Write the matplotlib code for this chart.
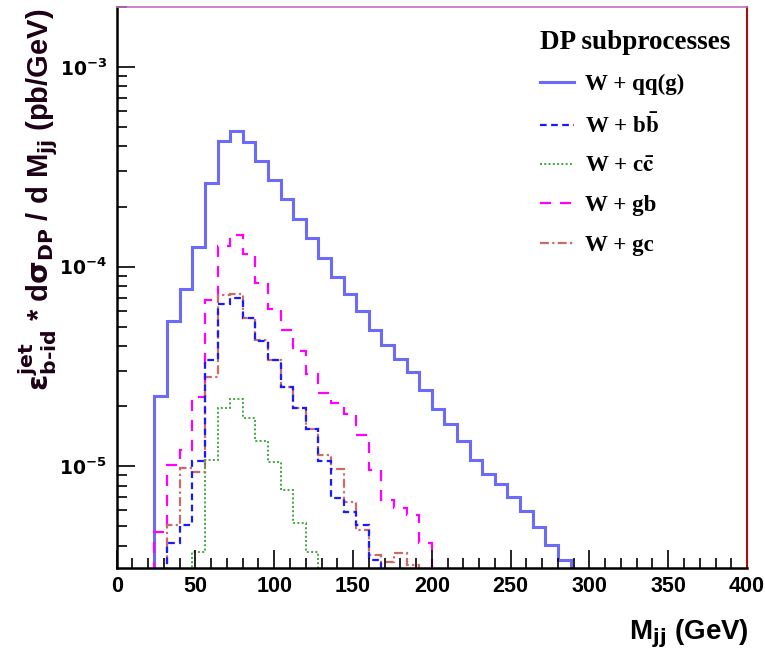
import numpy as np
import matplotlib
matplotlib.use("Agg")
import matplotlib.pyplot as plt
from matplotlib.lines import Line2D
from matplotlib.font_manager import FontProperties
from matplotlib.ticker import FixedLocator, MultipleLocator, NullFormatter, FixedFormatter

# 50 bins of 8 GeV from 0 to 400; each series lists its non-empty bins
bin_width = 8.0

# W + qq(g)
qqg_start = 24
qqg = [2.26e-5, 5.35e-5, 7.76e-5, 1.26e-4, 2.61e-4, 4.27e-4, 4.79e-4, 4.2e-4,
       3.39e-4, 2.71e-4, 2.17e-4, 1.73e-4, 1.39e-4, 1.10e-4, 8.85e-5, 7.3e-5,
       6.0e-5, 4.83e-5, 4.06e-5, 3.44e-5, 2.95e-5, 2.4e-5, 1.94e-5, 1.62e-5,
       1.34e-5, 1.08e-5, 9.1e-6, 8.1e-6, 7.0e-6, 5.96e-6, 4.96e-6, 4.01e-6,
       3.38e-6]

# W + b bbar
bb_start = 32
bb = [4.1e-6, 5.1e-6, 1.06e-5, 3.4e-5, 6.5e-5, 7.0e-5, 5.5e-5, 4.26e-5,
      3.39e-5, 2.49e-5, 1.96e-5, 1.53e-5, 1.06e-5, 6.95e-6, 5.9e-6, 5.1e-6,
      3.4e-6]

# W + c cbar
cc_start = 48
cc = [3.7e-6, 1.08e-5, 1.96e-5, 2.17e-5, 1.74e-5, 1.33e-5, 1.05e-5, 7.6e-6,
      5.2e-6, 3.7e-6]

# W + gb
gb_start = 24
gb = [4.7e-6, 1.01e-5, 1.21e-5, 2.23e-5, 6.8e-5, 1.27e-4, 1.44e-4, 1.16e-4,
      8.26e-5, 6.12e-5, 4.83e-5, 3.76e-5, 2.9e-5, 2.34e-5, 2.07e-5, 1.83e-5,
      1.44e-5, 9.6e-6, 6.8e-6, 6.2e-6, 5.7e-6, 4.1e-6]

# W + gc
gc_start = 32
gc = [5.1e-6, 9.8e-6, 9.3e-6, 2.8e-5, 7.2e-5, 7.3e-5, 5.5e-5, 4.3e-5,
      3.4e-5, 2.5e-5, 1.96e-5, 1.53e-5, 1.14e-5, 9.7e-6, 6.6e-6, 4.8e-6,
      3.6e-6, 3.3e-6, 3.66e-6, 3.2e-6]

labels = ["W + qq(g)", r"W + b$\bar{\mathbf{b}}$", r"W + c$\bar{\mathbf{c}}$",
          "W + gb", "W + gc"]

x_ticks = [0, 50, 100, 150, 200, 250, 300, 350, 400]
y_ticks = [1e-5, 1e-4, 1e-3]
y_tick_labels = [r"$\mathbf{10^{-5}}$", r"$\mathbf{10^{-4}}$", r"$\mathbf{10^{-3}}$"]


def edges_for(start, vals):
    return start + bin_width * np.arange(len(vals) + 1)


def main():
    plt.rcParams["font.family"] = ["Liberation Sans", "DejaVu Sans"]
    plt.rcParams["font.weight"] = "bold"

    fig = plt.figure(figsize=(7.65, 6.52), dpi=100)
    ax = fig.add_axes([0.1525, 0.1293, 0.824, 0.86])

    # (values, start, colour, lw, dashes) -- drawing order matters a bit
    styles = [
        (qqg, qqg_start, "#6b6bf7", 2.2, "-"),
        (gb, gb_start, "#ff00ff", 1.6, (0, (5, 4))),
        (gc, gc_start, "#cc6a6a", 1.6, (0, (4, 1.5, 1, 1.5))),
        (bb, bb_start, "#1a1aff", 1.6, (0, (3, 2))),
        (cc, cc_start, "#3ea83e", 1.4, (0, (1, 1.2))),
    ]
    for vals, start, col, lw, ls in styles:
        ax.stairs(vals, edges_for(start, vals), baseline=0, color=col,
                  lw=lw, linestyle=ls)

    ax.set_yscale("log")
    ax.set_xlim(0, 400)
    ax.set_ylim(3.1e-6, 2.0e-3)

    ax.xaxis.set_major_locator(FixedLocator(x_ticks))
    ax.xaxis.set_minor_locator(MultipleLocator(10))
    ax.yaxis.set_major_locator(FixedLocator(y_ticks))
    ax.yaxis.set_major_formatter(FixedFormatter(y_tick_labels))
    minors = [m * 10.0 ** e for e in (-6, -5, -4, -3) for m in range(2, 10)]
    ax.yaxis.set_minor_locator(FixedLocator(minors))
    ax.yaxis.set_minor_formatter(NullFormatter())

    ax.tick_params(which="both", direction="in", top=False, right=False,
                   colors="black", width=1.2)
    ax.tick_params(which="major", length=13, pad=6)
    ax.tick_params(axis="x", labelsize=15.5)
    ax.tick_params(axis="y", labelsize=13.5, pad=7)
    ax.tick_params(which="minor", length=7)
    for lab in ax.get_xticklabels():
        lab.set_fontweight("bold")

    for side in ("left", "bottom"):
        ax.spines[side].set_linewidth(1.8)
        ax.spines[side].set_color("black")
    ax.spines["top"].set_color("#c070c0")
    ax.spines["right"].set_color("#a01010")
    ax.spines["top"].set_linewidth(1.2)
    ax.spines["right"].set_linewidth(1.5)

    # axis titles, ROOT style
    fig.text(0.979, 0.02, r"M$_{\mathbf{jj}}$ (GeV)", ha="right", va="baseline",
             fontsize=20, fontweight="bold")
    fig.text(0.05, 0.987,
             r"$\mathbf{\varepsilon^{jet}_{b\text{-}id}}$ * d$\mathbf{\sigma_{DP}}$ / d M$_{\mathbf{jj}}$ (pb/GeV)",
             rotation=90, ha="center", va="top", fontsize=21,
             fontweight="bold", color="#1e0016")

    handles = [Line2D([], [], color=s[2], lw=s[3], linestyle=s[4]) for s in styles]
    order = [0, 3, 4, 1, 2]
    leg_font = FontProperties(family="Liberation Serif", weight="bold",
                              size=16.5, math_fontfamily="stix")
    title_font = FontProperties(family="Liberation Serif", weight="bold",
                                size=19.5)
    ax.legend([handles[i] for i in order], labels, loc="upper left",
              bbox_to_anchor=(0.682, 0.982), bbox_transform=fig.transFigure,
              frameon=False, prop=leg_font, title="DP subprocesses",
              title_fontproperties=title_font, alignment="left",
              handlelength=1.5, handletextpad=0.45, labelspacing=0.8,
              borderpad=0.3)

    fig.savefig("out.png", dpi=100)


if __name__ == "__main__":
    main()
